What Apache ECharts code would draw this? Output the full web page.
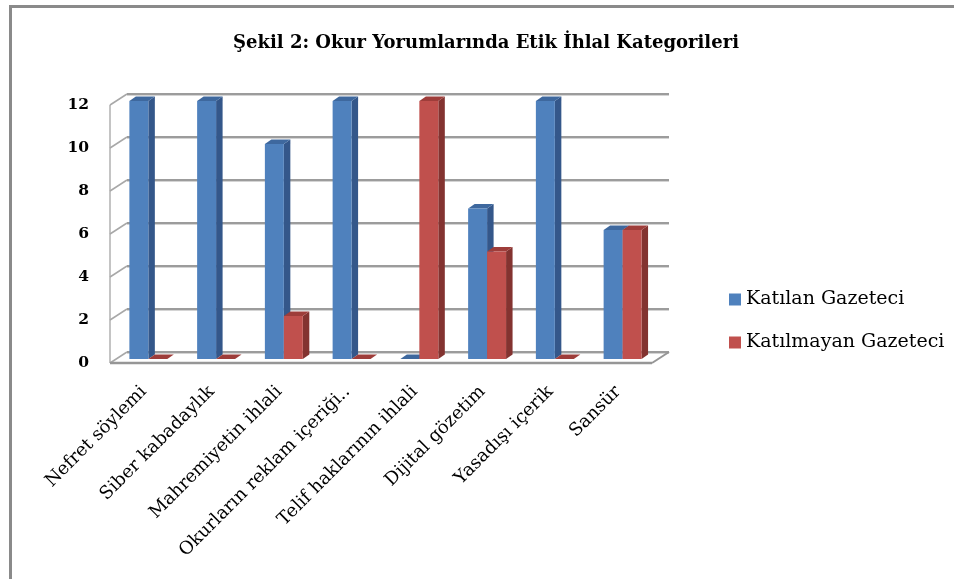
<!DOCTYPE html>
<html>
<head>
<meta charset="utf-8">
<script src="https://cdn.jsdelivr.net/npm/echarts@6/dist/echarts.min.js"></script>
<style>
  html, body { margin: 0; padding: 0; background: #fff; }
  #chart { width: 954px; height: 579px; }
</style>
</head>
<body>
<div id="chart"></div>
<script>
// kategoriler ve seriler
const categories = ['Nefret söylemi', 'Siber kabadaylık', 'Mahremiyetin ihlali', 'Okurların reklam içeriği..',
  'Telif haklarının ihlali', 'Dijital gözetim', 'Yasadışı içerik', 'Sansür'];
const katilan = [12, 12, 10, 12, 0, 7, 12, 6];
const katilmayan = [0, 0, 2, 0, 12, 5, 0, 6];
const yTicks = [0, 2, 4, 6, 8, 10, 12];

// 3B görünüm için derinlik kaymaları
const WALL_DX = 17, WALL_DY = -11;
const BAR_DX = 6.5, BAR_DY = -4.5;

function barRenderer(offset, face, side, top) {
  return function (params, api) {
    const bw = api.size([1, 0])[0];
    const w = bw * 0.28;
    const base = api.coord([api.value(0), 0]);
    const peak = api.coord([api.value(0), api.value(1)]);
    const x = base[0] + offset * bw;
    const yb = base[1] - 4;
    const yt = peak[1] - 4;
    return {
      type: 'group',
      children: [
        { type: 'polygon', shape: { points: [[x + w, yb], [x + w + BAR_DX, yb + BAR_DY], [x + w + BAR_DX, yt + BAR_DY], [x + w, yt]] }, style: { fill: side } },
        { type: 'polygon', shape: { points: [[x, yt], [x + BAR_DX, yt + BAR_DY], [x + w + BAR_DX, yt + BAR_DY], [x + w, yt]] }, style: { fill: top } },
        { type: 'rect', shape: { x: x, y: yt, width: w, height: yb - yt }, style: { fill: face } }
      ]
    };
  };
}

function frameRenderer(params, api) {
  const cs = params.coordSys;
  const v = api.value(1);
  const y = api.coord([0, v])[1];
  const children = [
    { type: 'line', shape: { x1: cs.x, y1: y, x2: cs.x + WALL_DX, y2: y + WALL_DY }, style: { stroke: '#a8a8a8', lineWidth: 1.5 } },
    { type: 'line', shape: { x1: cs.x + WALL_DX, y1: y + WALL_DY + 1.5, x2: cs.x + cs.width + WALL_DX, y2: y + WALL_DY + 1.5 }, style: { stroke: '#d4d4d4', lineWidth: 1 } },
    { type: 'line', shape: { x1: cs.x + WALL_DX, y1: y + WALL_DY, x2: cs.x + cs.width + WALL_DX, y2: y + WALL_DY }, style: { stroke: '#9c9c9c', lineWidth: 2 } }
  ];
  if (v === 0) {
    children.push(
      { type: 'line', shape: { x1: cs.x, y1: y, x2: cs.x, y2: cs.y }, style: { stroke: '#b0b0b0', lineWidth: 1.5 } },
      { type: 'line', shape: { x1: cs.x, y1: y, x2: cs.x + cs.width, y2: y }, style: { stroke: '#969696', lineWidth: 2.5 } },
      { type: 'line', shape: { x1: cs.x + cs.width, y1: y, x2: cs.x + cs.width + WALL_DX, y2: y + WALL_DY }, style: { stroke: '#969696', lineWidth: 2 } }
    );
  }
  return { type: 'group', children: children };
}

const chart = echarts.init(document.getElementById('chart'));
chart.setOption({
  backgroundColor: '#fff',
  animation: false,
  title: {
    text: 'Şekil 2: Okur Yorumlarında Etik İhlal Kategorileri',
    left: 481,
    textAlign: 'center',
    top: 29,
    textStyle: { fontFamily: 'DejaVu Serif', fontWeight: 'bold', fontSize: 18, color: '#000' }
  },
  graphic: [
    { type: 'rect', left: 8, top: 4, shape: { width: 980, height: 620 }, style: { fill: 'none', stroke: '#8a8a8a', lineWidth: 3 }, silent: true }
  ],
  legend: {
    orient: 'vertical',
    left: 724,
    top: 285,
    itemWidth: 12,
    itemHeight: 12,
    itemGap: 24,
    icon: 'rect',
    textStyle: { fontFamily: 'DejaVu Serif', fontSize: 19, color: '#000' },
    data: ['Katılan Gazeteci', 'Katılmayan Gazeteci']
  },
  grid: { left: 110, right: 302, top: 105, bottom: 216 },
  xAxis: {
    type: 'category',
    data: categories,
    axisLine: { show: false },
    axisTick: { show: false },
    axisLabel: {
      interval: 0,
      rotate: 45,
      margin: 26,
      fontFamily: 'DejaVu Serif',
      fontSize: 18,
      color: '#000'
    }
  },
  yAxis: {
    type: 'value',
    min: 0,
    max: 12,
    interval: 2,
    splitLine: { show: false },
    axisLine: { show: false },
    axisTick: { show: false },
    axisLabel: { margin: 21, fontFamily: 'DejaVu Serif', fontWeight: 'bold', fontSize: 15.5, color: '#000' }
  },
  series: [
    {
      name: 'frame',
      type: 'custom',
      renderItem: frameRenderer,
      data: yTicks.map(v => [0, v]),
      silent: true,
      z: 1
    },
    {
      name: 'Katılan Gazeteci',
      type: 'custom',
      renderItem: barRenderer(-0.214, '#4f81bd', '#34578a', '#3e689e'),
      itemStyle: { color: '#4f81bd' },
      data: katilan.map((v, i) => [i, v]),
      encode: { x: 0, y: 1 },
      z: 2
    },
    {
      name: 'Katılmayan Gazeteci',
      type: 'custom',
      renderItem: barRenderer(0.066, '#c0504d', '#833330', '#9e3d3a'),
      itemStyle: { color: '#c0504d' },
      data: katilmayan.map((v, i) => [i, v]),
      encode: { x: 0, y: 1 },
      z: 3
    }
  ]
});
</script>
</body>
</html>
